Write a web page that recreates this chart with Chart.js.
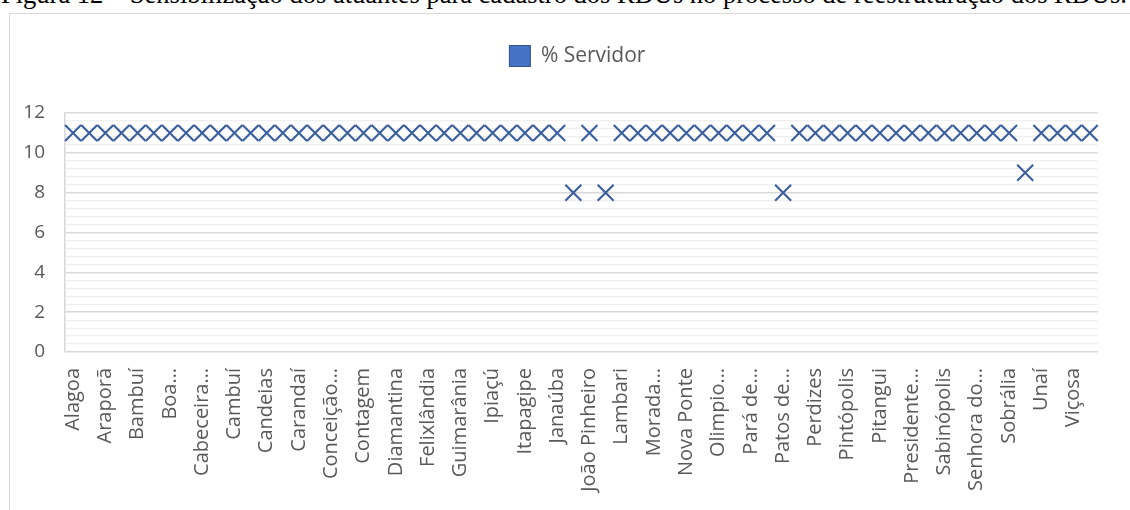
<!DOCTYPE html>
<html>
<head>
<meta charset="utf-8">
<script src="https://cdn.jsdelivr.net/npm/chart.js@4.4.1/dist/chart.umd.min.js"></script>
<style>
  html, body { margin: 0; padding: 0; background: #fff; overflow: hidden; }
  #wrap { position: relative; width: 1130px; height: 510px; overflow: hidden; }
  #caption {
    position: absolute; left: 1px; top: -21px;
    font-family: "Liberation Serif", serif; font-size: 26.5px; line-height: 30px;
    white-space: nowrap; color: #000;
  }
  #frame {
    position: absolute; left: 9px; top: 13px; width: 1140px; height: 520px;
    border-left: 1.5px solid #d9d9d9; border-top: 1.5px solid #d9d9d9;
  }
  #chart { position: absolute; left: 0; top: 0; }
</style>
</head>
<body>
<div id="wrap">
  <div id="caption">Figura 12 – Sensibilização dos atuantes para cadastro dos RDUs no processo de reestruturação dos RDUs.</div>
  <div id="frame"></div>
  <canvas id="chart" width="1130" height="510"></canvas>
</div>
<script>
// Municipality names shown on the category axis (one on every other category)
const cityLabels = [
  "Alagoa", "Araporã", "Bambuí", "Boa…", "Cabeceira…", "Cambuí", "Candeias",
  "Carandaí", "Conceição…", "Contagem", "Diamantina", "Felixlândia", "Guimarânia",
  "Ipiaçú", "Itapagipe", "Janaúba", "João Pinheiro", "Lambari", "Morada…",
  "Nova Ponte", "Olimpio…", "Pará de…", "Patos de…", "Perdizes", "Pintópolis",
  "Pitangui", "Presidente…", "Sabinópolis", "Senhora do…", "Sobrália", "Unaí", "Viçosa"
];
const categories = cityLabels.flatMap(name => [name, ""]);

// % Servidor, one value per municipality
const servidor = [
  11, 11, 11, 11, 11, 11, 11, 11, 11, 11,
  11, 11, 11, 11, 11, 11, 11, 11, 11, 11,
  11, 11, 11, 11, 11, 11, 11, 11, 11, 11,
  11, 8, 11, 8, 11, 11, 11, 11, 11, 11,
  11, 11, 11, 11, 8, 11, 11, 11, 11, 11,
  11, 11, 11, 11, 11, 11, 11, 11, 11, 9,
  11, 11, 11, 11
];

const yTickLabels = [0, 2, 4, 6, 8, 10, 12];
const yMinorStep = 0.4;

const textColor = "#595959";
const markerColor = "#3A5E9F";

// Extra room between the legend and the plot area, and a small nudge of the legend
const legendGap = {
  id: "legendGap",
  beforeLayout(chart) {
    const lg = chart.legend;
    if (lg && !lg._gapPatched) {
      const fit = lg.fit;
      lg.fit = function () { fit.call(this); this.height += 36.5; };
      lg._gapPatched = true;
    }
  },
  afterLayout(chart) {
    const lg = chart.legend;
    if (lg) { lg.left -= 4; lg.right -= 4; }
  }
};

const isMajor = v => yTickLabels.some(t => Math.abs(t - v) < 1e-6);

new Chart(document.getElementById("chart"), {
  type: "line",
  data: {
    labels: categories,
    datasets: [{
      label: "% Servidor",
      data: servidor,
      showLine: false,
      pointStyle: "crossRot",
      pointRadius: 11.3,
      pointHoverRadius: 11.3,
      pointBorderWidth: 2.1,
      pointBorderColor: markerColor,
      pointBackgroundColor: markerColor,
      borderColor: markerColor,
      backgroundColor: "#4472C4"
    }]
  },
  options: {
    responsive: false,
    animation: false,
    events: [],
    layout: { padding: { top: 35.5, left: 10, right: 26, bottom: 0 } },
    plugins: {
      tooltip: { enabled: false },
      legend: {
        position: "top",
        fullSize: false,
        labels: {
          boxWidth: 21,
          boxHeight: 21,
          padding: 10,
          color: textColor,
          font: { family: "Open Sans", size: 21 },
          generateLabels: chart => chart.data.datasets.map((ds, i) => ({
            text: ds.label,
            fillStyle: "#4472C4",
            strokeStyle: "#2F528F",
            lineWidth: 1,
            fontColor: textColor,
            datasetIndex: i
          }))
        }
      }
    },
    scales: {
      x: {
        offset: true,
        grid: { display: false, drawTicks: false, offset: true },
        border: { display: false },
        ticks: {
          autoSkip: false,
          maxRotation: 90,
          minRotation: 90,
          padding: 16,
          color: textColor,
          font: { family: "Open Sans", size: 20 }
        },
        afterFit(scale) { scale.height = 158; }
      },
      y: {
        min: 0,
        max: 12,
        afterBuildTicks(scale) {
          const ticks = [];
          const n = Math.round((scale.max - scale.min) / yMinorStep);
          for (let k = 0; k <= n; k++) ticks.push({ value: +(scale.min + k * yMinorStep).toFixed(2) });
          scale.ticks = ticks;
        },
        grid: {
          drawTicks: false,
          color: c => (c.tick && isMajor(c.tick.value)) ? "#d9d9d9" : "#efefef",
          lineWidth: c => (c.tick && isMajor(c.tick.value)) ? 1.6 : 1.2
        },
        border: { display: true, color: "#d9d9d9", width: 1.6 },
        ticks: {
          autoSkip: false,
          padding: 20,
          color: textColor,
          font: { family: "Open Sans", size: 19 },
          callback: v => isMajor(v) ? String(Math.round(v)) : ""
        },
        afterFit(scale) { scale.width = 55; }
      }
    }
  },
  plugins: [legendGap]
});
</script>
</body>
</html>
